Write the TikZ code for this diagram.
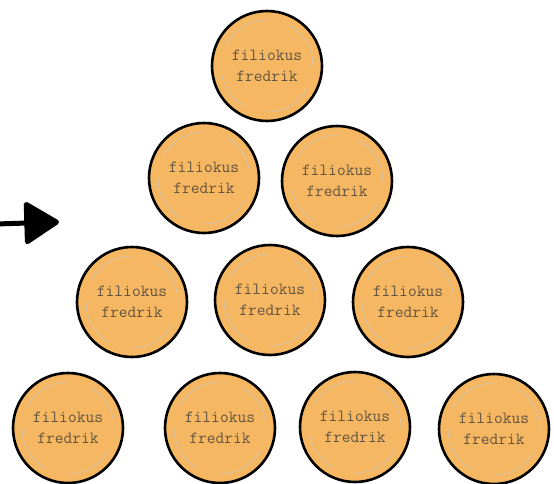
\documentclass[tikz,border=0pt]{standalone}
\usepackage{tikz}
\usetikzlibrary{arrows.meta, positioning}
\usepackage{xcolor}

\definecolor{coinfill}{RGB}{246,183,98}
\definecolor{cointext}{RGB}{98,84,64}

\begin{document}
\begin{tikzpicture}[
    x=1pt, y=-1pt,
    coin/.style={circle, draw=black, line width=2.6pt, fill=coinfill,
        minimum size=110pt, inner sep=0pt, align=center, text=cointext,
        font=\fontsize{17}{21}\selectfont\ttfamily,
        path picture={\draw[black!22, line width=0.5pt, dash pattern=on 50pt off 22pt]
            (path picture bounding box.center) circle (46pt);}},
    pointer/.style={line width=5pt, -{Triangle[length=37pt, width=45pt, round]}}
]

   \useasboundingbox (0,0) rectangle (554,484);

   % Top row
   \node[coin] (a1) at (267,66) {filiokus\\fredrik};

   % Second row
   \node[coin] (b1) at (204,178) {filiokus\\fredrik};
   \node[coin] (b2) at (337,181) {filiokus\\fredrik};

   % Third row
   \node[coin] (c1) at (132,302) {filiokus\\fredrik};
   \node[coin] (c2) at (270,300) {filiokus\\fredrik};
   \node[coin] (c3) at (408,302) {filiokus\\fredrik};

   % Bottom row
   \node[coin] (d1) at (68,428) {filiokus\\fredrik};
   \node[coin] (d2) at (220,428) {filiokus\\fredrik};
   \node[coin] (d3) at (355,427) {filiokus\\fredrik};
   \node[coin] (d4) at (494,429) {filiokus\\fredrik};

   % Arrow pointing at the pile
   \coordinate (arrstart) at (-4,224);
   \coordinate (arrend) at (59,222);
   \draw[pointer] (arrstart) -- (arrend);

\end{tikzpicture}
\end{document}
